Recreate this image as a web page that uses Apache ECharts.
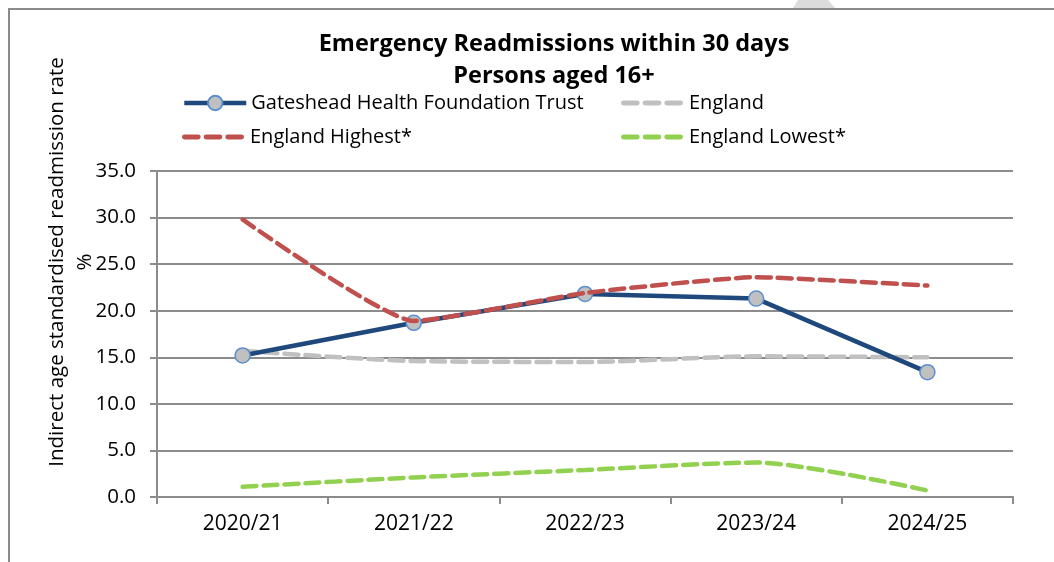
<!DOCTYPE html>
<html>
<head>
<meta charset="utf-8">
<script src="https://cdn.jsdelivr.net/npm/echarts@6/dist/echarts.min.js"></script>
<style>
  html, body { margin: 0; padding: 0; background: #ffffff; }
  #chart { width: 1054px; height: 562px; }
</style>
</head>
<body>
<div id="chart"></div>
<script>
// Financial years on the category axis
const years = ['2020/21', '2021/22', '2022/23', '2023/24', '2024/25'];

// Indirect age standardised readmission rate (%)
const gateshead = [15.2, 18.7, 21.8, 21.3, 13.4];
const england = [15.7, 14.6, 14.5, 15.1, 15.0];
const englandHighest = [29.8, 18.9, 21.9, 23.6, 22.7];
const englandLowest = [1.1, 2.1, 2.9, 3.7, 0.7];

// Value axis range
const yMin = 0;
const yMax = 35;
const yStep = 5;

const FONT = '"Open Sans", "Noto Sans", sans-serif';
const AXIS_GREY = '#8c8c8c';

// three short rounded dashes used as the key swatch for the dashed series
const DASH_ICON = 'path://' +
  'M2,0h14a2,2 0 0 1 0,5h-14a2,2 0 0 1 0,-5z' +
  'M24,0h14a2,2 0 0 1 0,5h-14a2,2 0 0 1 0,-5z' +
  'M46,0h14a2,2 0 0 1 0,5h-14a2,2 0 0 1 0,-5z';

const chart = echarts.init(document.getElementById('chart'), null, { renderer: 'canvas' });

function legendAt(name, left, top, dashed) {
  return {
    data: [dashed ? { name: name, icon: DASH_ICON } : { name: name }],
    left: left,
    top: top,
    itemWidth: 62,
    itemHeight: dashed ? 5 : 18,
    itemGap: 0,
    padding: 0,
    selectedMode: false,
    lineStyle: { width: 4.5 },
    textStyle: { fontFamily: FONT, fontSize: 20, color: '#000', padding: [0, 0, 0, dashed ? 1 : 0] }
  };
}

chart.setOption({
  animation: false,
  backgroundColor: '#ffffff',
  title: {
    text: 'Emergency Readmissions within 30 days\nPersons aged 16+',
    left: 549,
    top: 23,
    textAlign: 'center',
    textStyle: { fontFamily: FONT, fontSize: 23.5, fontWeight: 'bold', color: '#000', lineHeight: 32 }
  },
  legend: [
    legendAt('Gateshead Health Foundation Trust', 182, 93, false),
    legendAt('England', 621, 93, true),
    legendAt('England Highest*', 182, 127, true),
    legendAt('England Lowest*', 621, 127, true)
  ],
  grid: { left: 157, right: 41, top: 171, bottom: 65, containLabel: false },
  xAxis: {
    type: 'category',
    data: years,
    boundaryGap: true,
    axisLine: { lineStyle: { color: AXIS_GREY, width: 2 } },
    axisTick: { show: true, length: 7, lineStyle: { color: AXIS_GREY, width: 2 } },
    axisLabel: { fontFamily: FONT, fontSize: 21, color: '#000', margin: 17 }
  },
  yAxis: {
    type: 'value',
    min: yMin,
    max: yMax,
    interval: yStep,
    axisLine: { show: true, lineStyle: { color: AXIS_GREY, width: 2 } },
    axisTick: { show: true, length: 7, lineStyle: { color: AXIS_GREY, width: 2 } },
    axisLabel: {
      fontFamily: FONT, fontSize: 20.5, color: '#000', margin: 21,
      formatter: v => v.toFixed(1)
    },
    splitLine: { lineStyle: { color: AXIS_GREY, width: 2 } }
  },
  graphic: [
    // chart frame
    { type: 'line', shape: { x1: 8, y1: 9, x2: 1054, y2: 9 }, style: { stroke: '#8a8a8a', lineWidth: 2 }, silent: true },
    { type: 'line', shape: { x1: 9, y1: 9, x2: 9, y2: 562 }, style: { stroke: '#8a8a8a', lineWidth: 2 }, silent: true },
    { type: 'polygon', shape: { points: [[793, 8], [798, 0], [828, 0], [835, 8]] }, style: { fill: '#dcdcdc' }, silent: true },
    // y-axis name
    {
      type: 'text', x: 57, y: 262, rotation: Math.PI / 2,
      style: { text: 'Indirect age standardised readmission rate', fontFamily: FONT, fontSize: 20.5, fill: '#000', textAlign: 'center', textVerticalAlign: 'middle' },
      silent: true
    },
    {
      type: 'text', x: 85, y: 262, rotation: Math.PI / 2,
      style: { text: '%', fontFamily: FONT, fontSize: 20.5, fill: '#000', textAlign: 'center', textVerticalAlign: 'middle' },
      silent: true
    }
  ],
  series: [
    {
      name: 'England',
      type: 'line',
      data: england,
      smooth: 0.25,
      symbol: 'none',
      z: 2,
      lineStyle: { color: '#c0c0c0', width: 4.5, type: [14, 7], cap: 'round' },
      itemStyle: { color: '#c0c0c0' }
    },
    {
      name: 'England Lowest*',
      type: 'line',
      data: englandLowest,
      smooth: 0.25,
      symbol: 'none',
      z: 2,
      lineStyle: { color: '#92d050', width: 4.5, type: [14, 7], cap: 'round' },
      itemStyle: { color: '#92d050' }
    },
    {
      name: 'Gateshead Health Foundation Trust',
      type: 'line',
      data: gateshead,
      symbol: 'circle',
      symbolSize: 15,
      z: 3,
      lineStyle: { color: '#1f497d', width: 4.5 },
      itemStyle: { color: '#c0c0c0', borderColor: '#5b8fd0', borderWidth: 1.5 }
    },
    {
      name: 'England Highest*',
      type: 'line',
      data: englandHighest,
      smooth: 0.15,
      symbol: 'none',
      z: 4,
      lineStyle: { color: '#c0504d', width: 4.5, type: [14, 7], cap: 'round' },
      itemStyle: { color: '#c0504d' }
    }
  ]
});
</script>
</body>
</html>
